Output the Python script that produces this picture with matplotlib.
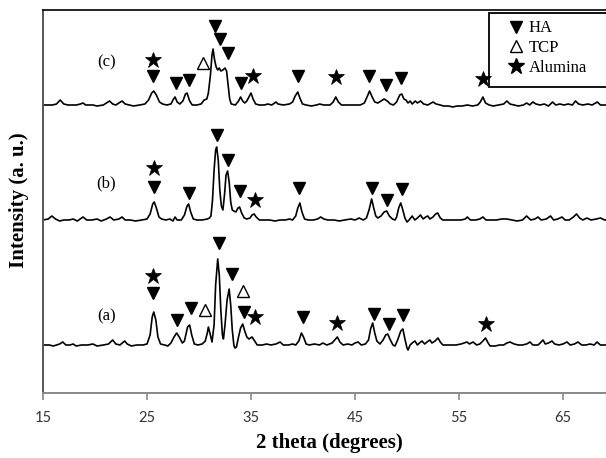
import matplotlib
matplotlib.use("Agg")
import matplotlib.pyplot as plt
from matplotlib.lines import Line2D
from matplotlib.patches import Rectangle

# XRD patterns (2 theta in degrees, intensity above each baseline, a.u.)
tt_a = [15.0, 15.6, 16.0, 16.6, 16.9, 17.2, 17.6, 17.9, 18.2, 18.7, 19.3, 19.8, 20.2, 20.8, 21.3, 21.7, 22.0, 22.4,
        22.85, 23.1, 23.5, 24.0, 24.6, 25.0, 25.3, 25.5, 25.65, 25.85, 26.05, 26.3, 26.7, 27.0, 27.3, 27.6, 27.85,
        28.1, 28.4, 28.6, 28.9, 29.1, 29.3, 29.55, 29.9, 30.3, 30.6, 30.8, 30.9, 31.05, 31.25, 31.45, 31.6, 31.8,
        31.95, 32.1, 32.25, 32.35, 32.5, 32.7, 32.9, 33.05, 33.2, 33.35, 33.45, 33.6, 33.8, 34.0, 34.2, 34.4, 34.6,
        34.8, 35.1, 35.35, 35.6, 36.1, 36.5, 36.9, 37.4, 37.8, 38.1, 38.6, 39.0, 39.3, 39.6, 39.85, 40.05, 40.3,
        40.6, 41.1, 41.6, 41.9, 42.3, 42.8, 43.05, 43.3, 43.55, 43.85, 44.3, 44.7, 45.0, 45.3, 45.6, 46.0, 46.3,
        46.5, 46.7, 46.9, 47.1, 47.4, 47.7, 47.95, 48.15, 48.4, 48.65, 48.85, 49.1, 49.4, 49.6, 49.8, 50.0, 50.1,
        50.3, 50.5, 50.77, 51.0, 51.2, 51.44, 51.7, 51.92, 52.2, 52.4, 52.7, 52.98, 53.2, 53.45, 53.8, 54.2, 54.7,
        55.2, 55.5, 55.77, 56.0, 56.35, 56.7, 57.0, 57.3, 57.55, 57.8, 58.0, 58.46, 58.9, 59.3, 59.6, 59.9, 60.3,
        60.7, 61.1, 61.5, 61.83, 62.1, 62.6, 62.8, 63.08, 63.3, 63.6, 63.94, 64.2, 64.6, 65.0, 65.38, 65.7, 66.1,
        66.44, 66.8, 67.2, 67.6, 68.0, 68.27, 68.6, 69.2]
int_a = [0, 0, -1, 1, 3, 0, 0, 1, -1, 0, 0, 1, -1, 0, 1, 5, 1, 0,
         4, 1, -1, 0, 0, 1, 10, 28, 33, 25, 8, 1, 0, -1, 2, 8, 12,
         8, 2, 4, 18, 20, 10, 1, 0, 1, 4, 12, 18, 12, 3, 20, 60, 86,
         70, 35, 10, 6, 20, 45, 56, 40, 15, 0, -3, -2, 8, 17, 21, 14, 8,
         6, 8, 4, 0, 0, 1, 0, 1, 3, 0, 0, 1, 0, 4, 12, 8, 1,
         0, 1, 0, 2, 0, 2, 5, 8, 3, 0, 1, 0, 2, 3, 0, 1, 5,
         16, 22, 12, 4, 1, 5, 10, 11, 5, 0, -1, 5, 14, 16, 6, -3, -5,
         0, 2, 4, 0, 2, 4, 1, 3, 5, 2, 4, 7, 3, 0, 0, 0, 0,
         1, 2, 3, 1, 3, 0, 1, 4, 7, 2, -1, -1, 0, 0, 2, 3, 1,
         0, 0, 1, 3, 0, 0, 2, 5, 1, 2, 4, 1, 0, 1, 3, 0, 1,
         3, 0, 0, 1, 0, 3, 0, 0]

tt_b = [15.0, 15.5, 15.85, 16.2, 16.6, 17.0, 17.5, 17.9, 18.3, 18.85, 19.2, 19.7, 20.2, 20.6, 21.1, 21.45, 21.8,
        22.3, 22.6, 22.9, 23.4, 23.9, 24.5, 25.0, 25.3, 25.55, 25.7, 25.9, 26.15, 26.4, 26.8, 27.2, 27.5, 27.7,
        27.9, 28.3, 28.6, 28.85, 29.0, 29.2, 29.45, 29.8, 30.3, 30.8, 31.0, 31.15, 31.3, 31.45, 31.6, 31.7, 31.85,
        32.0, 32.15, 32.3, 32.45, 32.6, 32.75, 32.9, 33.05, 33.2, 33.35, 33.55, 33.75, 33.9, 34.1, 34.35, 34.6,
        34.9, 35.1, 35.3, 35.5, 35.8, 36.2, 36.8, 37.3, 37.8, 38.3, 38.7, 39.0, 39.3, 39.5, 39.7, 39.9, 40.15,
        40.5, 41.0, 41.4, 41.7, 42.0, 42.4, 43.0, 43.5, 44.0, 44.6, 45.0, 45.4, 45.8, 46.1, 46.35, 46.6, 46.8,
        47.0, 47.2, 47.5, 47.8, 48.05, 48.3, 48.6, 48.85, 49.0, 49.2, 49.4, 49.6, 49.8, 50.0, 50.2, 50.5, 50.75,
        51.0, 51.3, 51.55, 51.8, 52.0, 52.2, 52.5, 52.75, 52.95, 53.2, 53.45, 54.0, 54.6, 55.2, 55.6, 55.8, 56.1,
        56.6, 57.0, 57.3, 57.6, 58.1, 58.6, 59.1, 59.6, 60.1, 60.6, 61.1, 61.5, 61.9, 62.3, 62.6, 62.9, 63.4,
        63.8, 64.1, 64.5, 64.9, 65.2, 65.6, 66.0, 66.3, 66.6, 66.9, 67.3, 67.7, 68.2, 68.6, 69.0, 69.2]
int_b = [0, 1, 4, 1, -1, 0, 0, 1, -1, 3, 0, 0, 1, -1, 1, 3, 0,
         1, 3, 0, 0, -1, 0, 1, 6, 16, 18, 12, 3, 1, 0, 1, -1, 3,
         0, 0, 5, 14, 16, 8, 1, 0, 0, 1, 2, 4, 20, 50, 70, 73, 60,
         30, 14, 10, 25, 45, 49, 38, 18, 10, 9, 8, 12, 13, 7, 2, 1,
         2, 5, 6, 3, 0, 0, 0, -1, 0, 0, 1, 0, 4, 12, 17, 8, 1,
         0, 0, 1, 3, 1, 0, 0, -1, 0, 1, 0, 2, 0, 2, 10, 21, 12,
         4, 2, 4, 8, 9, 4, 1, 0, 3, 12, 17, 10, 2, -2, 0, 4, 0,
         2, 5, 1, 3, 4, 1, 3, 6, 7, 2, 0, 0, 0, 0, 1, 3, 0,
         0, 1, 3, 0, 0, 0, 1, 1, 0, -1, 0, 4, 0, 1, 3, 0, 1,
         4, 0, 1, 3, 0, 0, 3, 6, 2, 0, 2, 0, 1, 2, 0, 0]

tt_c = [15.0, 15.9, 16.3, 16.65, 17.0, 17.4, 18.2, 18.6, 18.85, 19.1, 19.8, 20.2, 20.8, 21.1, 21.4, 21.7, 22.0,
        22.3, 22.6, 22.9, 23.3, 23.7, 24.3, 24.8, 25.15, 25.45, 25.65, 25.9, 26.2, 26.5, 26.9, 27.3, 27.55, 27.7,
        27.9, 28.15, 28.45, 28.7, 28.85, 29.1, 29.35, 29.8, 30.2, 30.5, 30.75, 30.9, 31.1, 31.25, 31.35, 31.5,
        31.65, 31.8, 31.95, 32.1, 32.3, 32.5, 32.65, 32.8, 32.95, 33.1, 33.5, 33.8, 34.0, 34.2, 34.4, 34.6, 34.8,
        35.0, 35.2, 35.45, 35.8, 36.3, 36.6, 37.0, 37.4, 37.6, 38.1, 38.7, 39.0, 39.25, 39.5, 39.7, 39.95, 40.3,
        40.8, 41.3, 41.6, 42.0, 42.6, 42.9, 43.15, 43.4, 43.7, 44.5, 45.5, 45.9, 46.2, 46.4, 46.65, 46.9, 47.2,
        47.5, 47.8, 48.1, 48.4, 48.7, 49.0, 49.3, 49.5, 49.7, 49.9, 50.1, 50.3, 50.5, 50.8, 51.0, 51.3, 51.6,
        52.0, 52.5, 52.8, 53.2, 53.5, 54.0, 54.4, 54.8, 55.3, 55.8, 56.3, 56.8, 57.05, 57.3, 57.55, 57.9, 58.3,
        58.8, 59.3, 59.6, 59.9, 60.3, 60.7, 61.2, 61.5, 61.8, 62.1, 62.4, 62.8, 63.2, 63.6, 64.0, 64.3, 64.7,
        65.1, 65.5, 65.9, 66.2, 66.5, 66.9, 67.4, 67.8, 68.3, 68.6, 69.2]
int_c = [0, 0, 1, 5, 1, 0, 0, 1, 2, 0, 0, -1, 0, 2, 4, 1, 0,
         2, 4, 1, 0, -1, 0, 1, 5, 12, 14, 10, 3, 1, 0, 1, 6, 8,
         3, 1, 4, 11, 12, 4, 0, 0, 1, 5, 6, 12, 30, 50, 56, 45,
         38, 35, 37, 34, 35, 37, 34, 20, 6, 1, 0, 4, 8, 4, 2, 4, 8,
         12, 6, 1, 0, 0, 1, 0, 3, 1, 0, 1, 3, 9, 13, 7, 1, 0,
         -1, 0, 1, 0, 0, 3, 8, 3, 0, 0, 0, 2, 9, 14, 8, 3, 2,
         4, 6, 4, 1, 0, 3, 10, 11, 6, 5, 2, 4, 1, 4, 2, 4, 1,
         0, 3, 1, 0, -1, -1, -2, -1, -1, 0, -1, 0, 3, 8, 2, 0, -1,
         0, 1, 4, 1, 0, -1, 0, 2, 0, 3, 1, 0, 1, -1, 3, 0, 1,
         0, 1, 0, 4, 1, 0, 1, 0, 3, 0, 0]

labels = ["(a)", "(b)", "(c)"]

# phase markers: (2 theta, height above baseline)
ha_a = [(25.58, 52), (27.88, 25), (29.23, 37), (31.92, 102), (33.17, 71), (34.33, 33),
        (39.99, 28), (46.83, 31), (48.27, 21), (49.62, 30)]
tcp_a = [(30.58, 35), (34.23, 54)]
al_a = [(25.58, 69), (35.38, 28), (43.27, 22), (57.6, 21)]

ha_b = [(25.67, 33), (29.04, 27), (31.73, 85), (32.79, 60), (33.94, 29), (39.61, 32),
        (46.63, 32), (48.08, 20), (49.52, 31)]
tcp_b = []
al_b = [(25.67, 52), (35.38, 20)]

ha_c = [(25.58, 29), (27.79, 22), (29.04, 25), (31.54, 79), (32.02, 66), (32.79, 52),
        (34.04, 22), (39.52, 29), (46.35, 29), (47.98, 20), (49.42, 27)]
tcp_c = [(30.38, 42)]
al_c = [(25.58, 45), (35.19, 29), (43.17, 28), (57.31, 26)]

xticks = [15, 25, 35, 45, 55, 65]

# layout
offsets = [48, 173, 288]
label_x = 21.1
label_y = [29, 37, 43]

serif = "Liberation Serif"

fig = plt.figure(figsize=(6.06, 4.58), dpi=100)
ax = fig.add_axes([43 / 606, 65 / 458, 563 / 606, 383 / 458])

patterns = [(tt_a, int_a, ha_a, tcp_a, al_a),
            (tt_b, int_b, ha_b, tcp_b, al_b),
            (tt_c, int_c, ha_c, tcp_c, al_c)]

for (tt, inten, ha, tcp, al), off, lab, ly in zip(patterns, offsets, labels, label_y):
    ax.plot(tt, [v + off for v in inten], color="black", lw=1.2, zorder=2)
    if ha:
        ax.plot([p[0] for p in ha], [p[1] + off for p in ha], ls="none", marker="v",
                ms=9, mfc="black", mec="black", mew=1, zorder=4)
    if tcp:
        ax.plot([p[0] for p in tcp], [p[1] + off for p in tcp], ls="none", marker="^",
                ms=8.5, mfc="white", mec="black", mew=1, zorder=4)
    if al:
        ax.plot([p[0] for p in al], [p[1] + off for p in al], ls="none", marker="*",
                ms=12, mfc="black", mec="black", mew=0.5, zorder=4)
    ax.text(label_x, off + ly, lab, fontsize=12, family=serif, ha="center", va="center")

ax.set_xlim(15, 15 + 563 / 10.4)
ax.set_ylim(0, 383)
ax.set_xticks(xticks)
ax.set_yticks([])
ax.tick_params(axis="x", direction="out", length=5, width=1.2, color="#888888",
               labelsize=10.5, pad=8, labelcolor="#333333")
for t in ax.get_xticklabels():
    t.set_family("Lato")

ax.spines["right"].set_visible(False)
ax.spines["top"].set_color("black")
ax.spines["top"].set_linewidth(1.2)
ax.spines["left"].set_color("#555555")
ax.spines["left"].set_linewidth(1.4)
ax.spines["bottom"].set_color("#888888")
ax.spines["bottom"].set_linewidth(1.4)

# legend box (its right side runs off the picture)
box = Rectangle(((489 - 43) / 563, (393 - 87) / 383), 0.3, 74 / 383, transform=ax.transAxes,
                fc="white", ec="black", lw=1.3, clip_on=False, zorder=3)
ax.add_patch(box)
handles = [Line2D([], [], ls="none", marker="v", ms=9, mfc="black", mec="black"),
           Line2D([], [], ls="none", marker="^", ms=8.5, mfc="white", mec="black"),
           Line2D([], [], ls="none", marker="*", ms=12, mfc="black", mec="black")]
leg = ax.legend(handles, ["HA", "TCP", "Alumina"], loc="center left",
                bbox_to_anchor=((508 - 43) / 563, (393 - 48) / 383), frameon=False,
                prop={"family": serif, "size": 12}, handlelength=1.0, handletextpad=0.25,
                labelspacing=0.22, borderpad=0, borderaxespad=0)
leg.set_zorder(5)

fig.text(329 / 606, 1 - 443 / 458, "2 theta (degrees)", fontsize=15, fontweight="bold",
         family=serif, ha="center", va="center")
fig.text(19 / 606, 1 - 200 / 458, "Intensity (a. u.)", fontsize=15, fontweight="bold",
         family=serif, ha="center", va="center", rotation=90)

fig.savefig("out.png", dpi=100)
